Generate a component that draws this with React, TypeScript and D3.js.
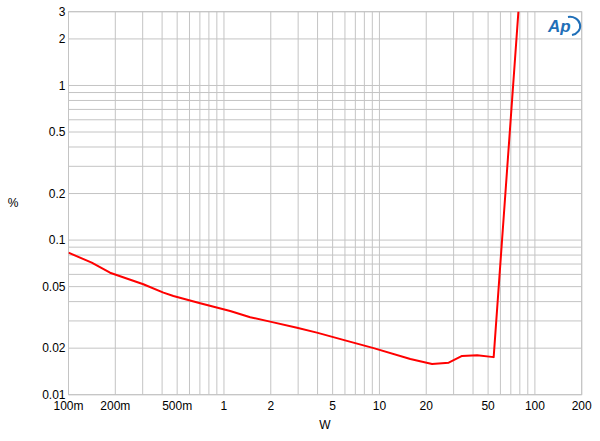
import React from "react";
import * as d3 from "d3";

const powerW = [0.1, 0.141, 0.185, 0.303, 0.408, 0.473, 0.703, 1.096, 1.475, 1.98, 2.95, 3.96, 6.18, 9.18, 15.8, 21.8, 27.9, 34.0, 42.5, 54.3, 78.5];
const thdPct = [0.0829, 0.0714, 0.0615, 0.0518, 0.0457, 0.0435, 0.039, 0.0348, 0.0317, 0.0297, 0.0271, 0.0252, 0.0223, 0.02, 0.017, 0.0158, 0.0161, 0.0178, 0.018, 0.0175, 3.1];

const xTickVals = [0.1, 0.2, 0.5, 1, 2, 5, 10, 20, 50, 100, 200];
const xTickLabels = ["100m", "200m", "500m", "1", "2", "5", "10", "20", "50", "100", "200"];
const yTickVals = [3, 2, 1, 0.5, 0.2, 0.1, 0.05, 0.02, 0.01];
const yTickLabels = ["3", "2", "1", "0.5", "0.2", "0.1", "0.05", "0.02", "0.01"];

const W = 600, H = 441;
const L = 68.5, R = 581.7, T = 11.7, B = 394.7;

export default function App() {
  const x = d3.scaleLog().domain([0.1, 200]).range([L, R]);
  const y = d3.scaleLog().domain([0.01, 3]).range([B, T]);

  const xGrid: number[] = [];
  for (let e = -1; e <= 2; e++) for (let m = 1; m <= 9; m++) {
    const v = m * Math.pow(10, e);
    if (v >= 0.1 - 1e-9 && v <= 200 + 1e-9) xGrid.push(v);
  }
  const yGrid: number[] = [];
  for (let e = -2; e <= 0; e++) for (let m = 1; m <= 9; m++) {
    const v = m * Math.pow(10, e);
    if (v >= 0.01 - 1e-9 && v <= 3 + 1e-9) yGrid.push(v);
  }

  const pts = powerW.map((w, i) => [w, thdPct[i]] as [number, number]);
  const line = d3.line<[number, number]>().x(d => x(d[0])).y(d => y(d[1]));

  const font = "Liberation Sans, Arial, sans-serif";

  return (
    <svg width={W} height={H} style={{ display: "block", position: "absolute", left: 0, top: 0 }}>
      <rect width={W} height={H} fill="#fff" />
      <defs>
        <clipPath id="plot">
          <rect x={L} y={T} width={R - L} height={B - T} />
        </clipPath>
      </defs>
      {xGrid.map((v, i) => (
        <line key={"xg" + i} x1={x(v)} x2={x(v)} y1={T} y2={B} stroke="#c4c4c4" strokeWidth={1} />
      ))}
      {yGrid.map((v, i) => (
        <line key={"yg" + i} x1={L} x2={R} y1={y(v)} y2={y(v)} stroke="#c4c4c4" strokeWidth={1} />
      ))}
      <rect x={L} y={T} width={R - L} height={B - T} fill="none" stroke="#c4c4c4" strokeWidth={1} />
      <path d={line(pts) || ""} fill="none" stroke="#ff0000" strokeWidth={2} clipPath="url(#plot)" strokeLinejoin="round" />
      {yTickVals.map((v, i) => (
        <text key={"yl" + i} x={L - 3} y={y(v)} dy="0.36em" textAnchor="end" fontFamily={font} fontSize={12} fill="#000">
          {yTickLabels[i]}
        </text>
      ))}
      {xTickVals.map((v, i) => (
        <text key={"xl" + i} x={x(v)} y={B + 15} textAnchor="middle" fontFamily={font} fontSize={12} fill="#000">
          {xTickLabels[i]}
        </text>
      ))}
      <text x={13} y={203} dy="0.36em" textAnchor="middle" fontFamily={font} fontSize={12}>%</text>
      <text x={325} y={425} dy="0.36em" textAnchor="middle" fontFamily={font} fontSize={12}>W</text>
      <g transform="translate(548,15)">
        <text x={0} y={17} fontFamily={font} fontSize={17} fontStyle="italic" fontWeight="bold" fill="#1f6fb8">Ap</text>
        <path d="M 20 2 A 10 9 0 0 1 24 20" fill="none" stroke="#1f6fb8" strokeWidth={2} />
      </g>
    </svg>
  );
}
